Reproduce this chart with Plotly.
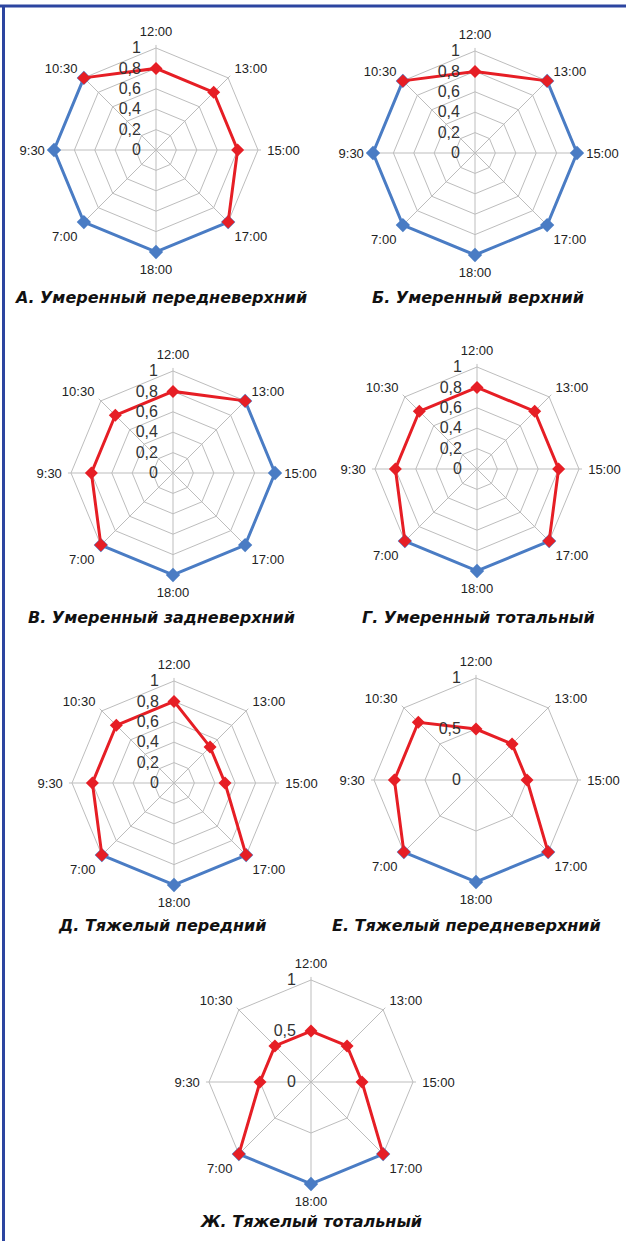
import plotly.graph_objects as go

W, H = 626, 1241

categories = ["12:00", "13:00", "15:00", "17:00", "18:00", "7:00", "9:30", "10:30"]

titles = [
    "А. Умеренный передневерхний",
    "Б. Умеренный верхний",
    "В. Умеренный задневерхний",
    "Г. Умеренный тотальный",
    "Д. Тяжелый передний",
    "Е. Тяжелый передневерхний",
    "Ж. Тяжелый тотальный",
]

# red series (None = not part of red path)
red_A = [0.8, 0.8, 0.8, 1, None, None, None, 1]
red_B = [0.8, 1, None, None, None, None, None, 1]
red_V = [0.8, 1, None, None, None, 1, 0.8, 0.8]
red_G = [0.8, 0.8, 0.8, 1, None, 1, 0.8, 0.8]
red_D = [0.8, 0.5, 0.5, 1, None, 1, 0.8, 0.8]
red_E = [0.5, 0.5, 0.5, 1, None, 1, 0.8, 0.8]
red_Zh = [0.5, 0.5, 0.5, 1, None, 1, 0.5, 0.5]

# blue series (reference level 1)
blue_A = [None, None, None, 1, 1, 1, 1, 1]
blue_B = [None, 1, 1, 1, 1, 1, 1, 1]
blue_V = [None, 1, 1, 1, 1, 1, None, None]
blue_G = [None, None, None, 1, 1, 1, None, None]
blue_D = [None, None, None, 1, 1, 1, None, None]
blue_E = [None, None, None, 1, 1, 1, None, None]
blue_Zh = [None, None, None, 1, 1, 1, None, None]

reds = [red_A, red_B, red_V, red_G, red_D, red_E, red_Zh]
blues = [blue_A, blue_B, blue_V, blue_G, blue_D, blue_E, blue_Zh]

tickvals_fine = [0, 0.2, 0.4, 0.6, 0.8, 1]
ticktext_fine = ["0", "0,2", "0,4", "0,6", "0,8", "1"]
tickvals_coarse = [0, 0.5, 1]
ticktext_coarse = ["0", "0,5", "1"]
tick_sets = ["fine", "fine", "fine", "fine", "fine", "coarse", "coarse"]

# layout: centers (px) and radius
centers = [(156, 150), (475, 153), (173, 473), (477, 469), (174, 783), (476, 780), (311, 1082)]
RMAX = 1.03
radius = 102 * RMAX
title_pos = [(160, 297), (478, 297), (162, 617), (478, 617), (162, 925), (466, 925), (311, 1221)]

RED = "#e61e25"
BLUE = "#4a7cc4"
GRID = "#bdbdbd"


def arc(values):
    n = len(values)
    start = None
    for i in range(n):
        if values[i] is not None and values[(i - 1) % n] is None:
            start = i
            break
    th, rr = [], []
    i = start
    while values[i] is not None:
        th.append(categories[i])
        rr.append(values[i])
        i = (i + 1) % n
        if i == start:
            break
    return th, rr


fig = go.Figure()
layout = {}
for k in range(7):
    pname = "polar" if k == 0 else f"polar{k + 1}"
    sub = pname
    cx, cy = centers[k]
    fine = tick_sets[k] == "fine"
    layout[pname] = dict(
        domain=dict(x=[(cx - radius) / W, (cx + radius) / W],
                    y=[1 - (cy + radius) / H, 1 - (cy - radius) / H]),
        gridshape="linear",
        bgcolor="rgba(0,0,0,0)",
        angularaxis=dict(
            categoryorder="array", categoryarray=categories,
            direction="clockwise", rotation=90,
            showline=False,
            gridcolor=GRID, gridwidth=1,
            ticks="outside", ticklen=3, tickcolor="rgba(0,0,0,0)",
            tickfont=dict(family="Liberation Sans", size=13, color="#222222"),
        ),
        radialaxis=dict(
            range=[0, RMAX], angle=90, tickangle=90,
            tickvals=tickvals_fine if fine else tickvals_coarse,
            ticktext=ticktext_fine if fine else ticktext_coarse,
            showline=False, ticks="outside", ticklen=9, tickcolor="rgba(0,0,0,0)",
            gridcolor=GRID, gridwidth=1,
            side="counterclockwise",
            tickfont=dict(family="Liberation Sans", size=16, color="#333333"),
        ),
    )
    th, rr = arc(blues[k])
    fig.add_trace(go.Scatterpolar(theta=th, r=rr, mode="lines+markers", subplot=sub,
                                  cliponaxis=False,
                                  line=dict(color=BLUE, width=3),
                                  marker=dict(symbol="diamond", size=11, color=BLUE),
                                  showlegend=False, hoverinfo="skip"))
    th, rr = arc(reds[k])
    fig.add_trace(go.Scatterpolar(theta=th, r=rr, mode="lines+markers", subplot=sub,
                                  cliponaxis=False,
                                  line=dict(color=RED, width=3),
                                  marker=dict(symbol="diamond", size=10, color=RED),
                                  showlegend=False, hoverinfo="skip"))

annotations = []
for k in range(7):
    x, y = title_pos[k]
    annotations.append(dict(text=f"<b><i>{titles[k]}</i></b>", x=x / W, y=1 - y / H,
                            xref="paper", yref="paper", showarrow=False,
                            xanchor="center", yanchor="middle",
                            font=dict(family="DejaVu Sans", size=16, color="#111111")))

shapes = [
    dict(type="line", xref="paper", yref="paper", x0=0, x1=1, y0=1 - 6 / H, y1=1 - 6 / H,
         line=dict(color="#2c45a0", width=3)),
    dict(type="line", xref="paper", yref="paper", x0=3.5 / W, x1=3.5 / W, y0=0, y1=1 - 5 / H,
         line=dict(color="#2c45a0", width=3)),
]

fig.update_layout(width=W, height=H, margin=dict(l=0, r=0, t=0, b=0),
                  paper_bgcolor="white", plot_bgcolor="white",
                  annotations=annotations, shapes=shapes, **layout)

fig.write_html("out.html", config={"displayModeBar": False},
               post_script="document.body.style.margin='0';")
